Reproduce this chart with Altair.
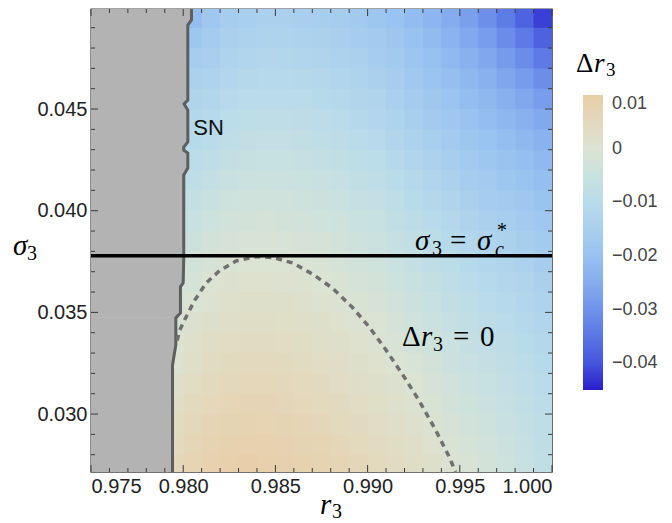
import altair as alt
import pandas as pd

# ---------------- data ----------------
# heat-map cells: column left edges (r3) and row bottom edges (sigma3), cell size 0.001 x 0.001
col_left = [0.979, 0.980, 0.981, 0.982, 0.983, 0.984, 0.985, 0.986, 0.987, 0.988, 0.989,
            0.990, 0.991, 0.992, 0.993, 0.994, 0.995, 0.996, 0.997, 0.998, 0.999]
row_bottom = [0.027, 0.028, 0.029, 0.030, 0.031, 0.032, 0.033, 0.034, 0.035, 0.036, 0.037, 0.038,
              0.039, 0.040, 0.041, 0.042, 0.043, 0.044, 0.045, 0.046, 0.047, 0.048, 0.049]

# Δr3 in units of 1e-3, one list per r3 column, bottom -> top
c00 = [6.0, 5.0, 4.0, 3.0, 2.0, 1.0, 0.0, -1.5, -3.0, -4.5, -6.0, -7.5, -9.0, -10.5, -12.0, -13.5, -15.0, -16.5, -18.0, -19.5, -21.0, -22.5, -24.0]
c01 = [7.5, 6.5, 5.6, 4.6, 3.7, 2.7, 1.7, 0.8, -0.3, -1.7, -3.1, -4.4, -5.7, -6.9, -8.1, -9.3, -10.5, -11.8, -12.9, -14.2, -15.9, -18.2, -21.0]
c02 = [8.5, 7.6, 6.6, 5.7, 4.8, 3.8, 2.9, 2.0, 1.0, 0.1, -1.3, -2.7, -4.1, -5.5, -6.8, -8.2, -9.6, -10.9, -12.2, -13.5, -14.8, -16.2, -18.0]
c03 = [9.2, 8.3, 7.3, 6.4, 5.4, 4.5, 3.6, 2.6, 1.7, 0.8, -0.2, -1.6, -2.9, -4.2, -5.5, -6.8, -8.1, -9.4, -10.7, -12.0, -13.3, -14.6, -16.0]
c04 = [9.5, 8.6, 7.6, 6.7, 5.8, 4.8, 3.9, 2.9, 2.0, 1.1, 0.1, -1.1, -2.3, -3.6, -4.9, -6.1, -7.4, -8.7, -9.9, -11.2, -12.5, -13.7, -15.0]
c05 = [9.3, 8.4, 7.5, 6.6, 5.7, 4.8, 3.9, 2.9, 2.0, 1.1, 0.2, -0.9, -2.2, -3.4, -4.6, -5.9, -7.1, -8.3, -9.6, -10.8, -12.0, -13.3, -14.5]
c06 = [8.9, 8.0, 7.1, 6.3, 5.4, 4.5, 3.6, 2.7, 1.9, 1.0, 0.1, -1.1, -2.3, -3.5, -4.8, -6.0, -7.2, -8.4, -9.6, -10.8, -12.1, -13.3, -14.5]
c07 = [8.3, 7.4, 6.6, 5.7, 4.9, 4.0, 3.2, 2.3, 1.5, 0.6, -0.4, -1.6, -2.8, -4.0, -5.2, -6.4, -7.6, -8.8, -10.0, -11.2, -12.4, -13.6, -14.8]
c08 = [7.6, 6.8, 5.9, 5.1, 4.3, 3.5, 2.6, 1.8, 1.0, 0.2, -1.0, -2.2, -3.4, -4.5, -5.7, -6.9, -8.1, -9.3, -10.5, -11.7, -12.9, -14.1, -15.3]
c09 = [6.8, 6.0, 5.2, 4.4, 3.6, 2.8, 2.0, 1.2, 0.4, -0.6, -1.8, -3.0, -4.1, -5.3, -6.5, -7.7, -8.9, -10.1, -11.3, -12.4, -13.6, -14.8, -16.0]
c10 = [5.9, 5.1, 4.3, 3.6, 2.8, 2.0, 1.2, 0.5, -0.5, -1.7, -2.8, -4.0, -5.2, -6.4, -7.6, -8.7, -9.9, -11.1, -12.3, -13.5, -14.6, -15.8, -17.0]
c11 = [5.0, 4.2, 3.5, 2.7, 2.0, 1.2, 0.5, -0.4, -1.5, -2.6, -3.7, -4.8, -6.0, -7.1, -8.3, -9.5, -10.7, -11.9, -13.1, -14.4, -15.7, -16.9, -18.2]
c12 = [4.0, 3.2, 2.5, 1.7, 0.9, 0.2, -0.9, -2.0, -3.1, -4.2, -5.3, -6.4, -7.6, -8.7, -9.9, -11.1, -12.3, -13.5, -14.7, -15.9, -17.1, -18.3, -19.6]
c13 = [3.0, 2.2, 1.5, 0.7, -0.1, -1.2, -2.3, -3.4, -4.5, -5.6, -6.7, -7.8, -9.0, -10.2, -11.4, -12.6, -13.8, -15.0, -16.2, -17.5, -18.8, -20.0, -21.2]
c14 = [1.9, 1.1, 0.3, -0.6, -1.6, -2.7, -3.7, -4.8, -5.9, -7.0, -8.1, -9.2, -10.3, -11.5, -12.7, -13.9, -15.1, -16.4, -17.7, -19.0, -20.3, -21.6, -23.0]
c15 = [0.4, -0.5, -1.4, -2.3, -3.3, -4.3, -5.3, -6.3, -7.3, -8.4, -9.5, -10.6, -11.7, -12.9, -14.1, -15.3, -16.6, -17.9, -19.2, -20.6, -22.0, -23.5, -25.0]
c16 = [-0.9, -1.8, -2.8, -3.7, -4.7, -5.7, -6.7, -7.7, -8.7, -9.8, -10.9, -12.0, -13.2, -14.4, -15.6, -16.9, -18.2, -19.5, -20.9, -22.4, -24.0, -25.7, -27.5]
c17 = [-2.4, -3.2, -4.1, -5.0, -5.9, -6.9, -7.9, -8.9, -9.9, -11.0, -12.1, -13.2, -14.4, -15.6, -16.9, -18.2, -19.6, -21.0, -22.5, -24.1, -25.9, -28.0, -30.5]
c18 = [-4.0, -4.7, -5.5, -6.3, -7.1, -8.0, -8.9, -9.9, -10.9, -12.0, -13.1, -14.3, -15.5, -16.8, -18.1, -19.5, -21.0, -22.6, -24.3, -26.2, -28.4, -31.0, -34.0]
c19 = [-5.7, -6.3, -7.0, -7.7, -8.5, -9.3, -10.2, -11.1, -12.1, -13.1, -14.2, -15.4, -16.6, -17.9, -19.3, -20.8, -22.4, -24.1, -26.0, -28.2, -30.9, -34.3, -38.0]
c20 = [-7.5, -8.0, -8.6, -9.3, -10.0, -10.8, -11.6, -12.5, -13.5, -14.5, -15.6, -16.8, -18.0, -19.3, -20.7, -22.2, -23.9, -25.8, -28.0, -30.8, -34.2, -38.2, -42.0]
columns = [c00, c01, c02, c03, c04, c05, c06, c07, c08, c09, c10,
           c11, c12, c13, c14, c15, c16, c17, c18, c19, c20]

# SN boundary (top -> bottom)
sn_r3 = [0.98045, 0.98045, 0.98025, 0.98025, 0.98005, 0.98025, 0.98025, 0.98003, 0.98003, 0.98025,
         0.98025, 0.98003, 0.98003, 0.98000, 0.97985, 0.97985, 0.97960, 0.97960, 0.97942, 0.97942]
sn_s3 = [0.05000, 0.04938, 0.04913, 0.04544, 0.04525, 0.04495, 0.04338, 0.04313, 0.04298, 0.04284,
         0.04210, 0.04176, 0.03772, 0.03645, 0.03625, 0.03497, 0.03473, 0.03340, 0.03241, 0.02700]

# Δr3 = 0 contour
zero_r3 = [0.97967, 0.97981, 0.98008, 0.98062, 0.98125, 0.98197, 0.98287, 0.98395, 0.98486, 0.98594,
           0.98702, 0.98810, 0.98918, 0.99008, 0.99098, 0.99188, 0.99278, 0.99369, 0.99441, 0.99477]
zero_s3 = [0.03361, 0.03412, 0.03464, 0.03559, 0.03645, 0.03705, 0.03753, 0.03774, 0.03770, 0.03743,
           0.03688, 0.03619, 0.03524, 0.03429, 0.03317, 0.03197, 0.03068, 0.02921, 0.02792, 0.02715]

sigma_c = [0.03779]

x_major = [0.975, 0.980, 0.985, 0.990, 0.995, 1.000]
x_minor = [0.976, 0.977, 0.978, 0.979, 0.981, 0.982, 0.983, 0.984, 0.986, 0.987, 0.988, 0.989,
           0.991, 0.992, 0.993, 0.994, 0.996, 0.997, 0.998, 0.999]
y_major = [0.030, 0.035, 0.040, 0.045]
y_minor = [0.028, 0.029, 0.031, 0.032, 0.033, 0.034, 0.036, 0.037, 0.038, 0.039,
           0.041, 0.042, 0.043, 0.044, 0.046, 0.047, 0.048, 0.049]
cbar_values = [-0.04, -0.03, -0.02, -0.01, 0.0, 0.01]

# ---------------- tables ----------------
cells = []
for i, col in enumerate(columns):
    for j, v in enumerate(col):
        cells.append({"x0": col_left[i], "x1": col_left[i] + 0.001,
                      "y0": row_bottom[j], "y1": row_bottom[j] + 0.001, "d": v / 1000.0})
df_heat = pd.DataFrame(cells)

# gray (unstable) region left of the SN boundary, as horizontal strips
strips = []
for j in range(len(sn_r3) - 1):
    strips.append({"gx0": 0.975, "gx1": (sn_r3[j] + sn_r3[j + 1]) / 2.0,
                   "gy0": sn_s3[j + 1], "gy1": sn_s3[j]})
df_gray = pd.DataFrame(strips)
df_sn = pd.DataFrame({"sx": sn_r3, "sy": sn_s3, "i": list(range(len(sn_r3)))})
df_zero = pd.DataFrame({"zx": zero_r3, "zy": zero_s3, "i": list(range(len(zero_r3)))})

W, H = 461, 463
xs = alt.Scale(domain=[0.975, 1.0], nice=False, zero=False)
ys = alt.Scale(domain=[0.02715, 0.04992], nice=False, zero=False)
x_axis = alt.Axis(values=x_major, format=".3f", ticks=False, domain=False, grid=False, title=None,
                  labelFont="Liberation Sans", labelFontSize=20, labelColor="#222222", labelPadding=4)
y_axis = alt.Axis(values=y_major, format=".3f", ticks=False, domain=False, grid=False, title=None,
                  labelFont="Liberation Sans", labelFontSize=20, labelColor="#222222", labelPadding=4)


def X(f):
    return alt.X(f + ":Q", scale=xs, axis=x_axis)


def Y(f):
    return alt.Y(f + ":Q", scale=ys, axis=y_axis)


cdomain = [-0.045, -0.04, -0.035, -0.03, -0.025, -0.02, -0.015, -0.01, -0.005, 0.0, 0.005, 0.01]
crange = ["#2a1ccc", "#4556dc", "#5a76e4", "#6f92ea", "#85adee", "#98c2f0", "#a9cfee", "#b9dbea",
          "#cae1df", "#dbe3d3", "#e3d9bd", "#e8cea8"]
cscale = alt.Scale(domain=cdomain, range=crange, interpolate="rgb")

legend = alt.Legend(type="gradient", orient="none", legendX=492, legendY=86, direction="vertical", title=None,
                    gradientLength=295, gradientThickness=20, gradientStrokeWidth=0,
                    values=cbar_values, labelFont="Liberation Sans", labelFontSize=18,
                    labelColor="#444444", labelOffset=9, labelBaseline="middle", labelOverlap=False,
                    labelExpr="datum.value == 0 ? '0' : replace(format(datum.value, '.2f'), '-', '\u2212')")

heat = alt.Chart(df_heat).mark_rect(clip=True, x2Offset=0.7, y2Offset=-0.7).encode(
    x=X("x0"), x2="x1", y=Y("y0"), y2="y1",
    color=alt.Color("d:Q", scale=cscale, legend=legend),
)

gray = alt.Chart(df_gray).mark_rect(color="#b3b3b3", clip=True, y2Offset=-0.5).encode(
    x=X("gx0"), x2="gx1", y=Y("gy0"), y2="gy1")

sn_line = alt.Chart(df_sn).mark_line(color="#5e5e5e", strokeWidth=3, clip=True).encode(
    x=X("sx"), y=Y("sy"), order="i:Q")

zero_line = alt.Chart(df_zero).mark_line(color="#707070", strokeWidth=3.5, strokeDash=[6, 5], clip=True).encode(
    x=X("zx"), y=Y("zy"), order="i:Q")

hline = alt.Chart(pd.DataFrame({"s": sigma_c})).mark_rule(color="black", strokeWidth=3.5).encode(y=Y("s"))

tick_color = "#3a3a3a"


def xticks(vals, length):
    d = pd.DataFrame({"t": vals})
    b = alt.Chart(d).mark_rule(color=tick_color, strokeWidth=1).encode(
        x=X("t"), y=alt.value(H), y2=alt.value(H - length))
    t = alt.Chart(d).mark_rule(color=tick_color, strokeWidth=1).encode(
        x=X("t"), y=alt.value(0), y2=alt.value(length))
    return [b, t]


def yticks(vals, length):
    d = pd.DataFrame({"t": vals})
    l = alt.Chart(d).mark_rule(color=tick_color, strokeWidth=1).encode(
        y=Y("t"), x=alt.value(0), x2=alt.value(length))
    r = alt.Chart(d).mark_rule(color=tick_color, strokeWidth=1).encode(
        y=Y("t"), x=alt.value(W), x2=alt.value(W - length))
    return [l, r]


ticks = xticks(x_major, 7) + xticks(x_minor, 4) + yticks(y_major, 7) + yticks(y_minor, 4)


def piece_data(text, xv, yv, dx, dy, size, italic):
    d = pd.DataFrame({"px": [xv], "py": [yv], "t": [text]})
    props = dict(font="Liberation Serif", fontSize=size, align="left", baseline="alphabetic",
                 dx=dx, dy=dy, color="black")
    if italic:
        props["fontStyle"] = "italic"
    return alt.Chart(d).mark_text(**props).encode(x=X("px"), y=Y("py"), text="t:N")


def piece_px(text, xp, yp, size, italic):
    d = pd.DataFrame({"t": [text]})
    props = dict(font="Liberation Serif", fontSize=size, align="left", baseline="alphabetic", color="black")
    if italic:
        props["fontStyle"] = "italic"
    return alt.Chart(d).mark_text(**props).encode(x=alt.value(xp), y=alt.value(yp), text="t:N")


# label anchors (data coordinates)
sig_lab = (0.99257, 0.03807)
dr_lab = (0.99187, 0.03334)
sn_lab = (0.98055, 0.04407)

texts = [
    piece_data("σ", sig_lab[0], sig_lab[1], 0, 0, 29, True),
    piece_data("3", sig_lab[0], sig_lab[1], 17, 5, 20, False),
    piece_data("=", sig_lab[0], sig_lab[1], 35, 0, 29, False),
    piece_data("σ", sig_lab[0], sig_lab[1], 62, 0, 29, True),
    piece_data("c", sig_lab[0], sig_lab[1], 80, 6, 20, True),
    piece_data("*", sig_lab[0], sig_lab[1], 82, -13, 20, False),
    piece_data("Δ", dr_lab[0], dr_lab[1], 0, 0, 29, False),
    piece_data("r", dr_lab[0], dr_lab[1], 19, 0, 29, True),
    piece_data("3", dr_lab[0], dr_lab[1], 31, 5, 20, False),
    piece_data("=", dr_lab[0], dr_lab[1], 51, 0, 29, False),
    piece_data("0", dr_lab[0], dr_lab[1], 78, 0, 29, False),
    alt.Chart(pd.DataFrame({"px": [sn_lab[0]], "py": [sn_lab[1]], "t": ["SN"]})).mark_text(
        font="Liberation Sans", fontSize=22, align="left", baseline="middle", color="#111111").encode(
        x=X("px"), y=Y("py"), text="t:N"),
    # axis titles
    piece_px("σ", -78, 246, 29, True),
    piece_px("3", -64, 251, 20, False),
    piece_px("r", 229, 505, 29, True),
    piece_px("3", 241, 509, 20, False),
    # colorbar title
    piece_px("Δ", 485, 63, 27, False),
    piece_px("r", 503, 63, 27, True),
    piece_px("3", 515, 67, 19, False),
]

chart = alt.layer(heat, gray, sn_line, zero_line, hline, *ticks, *texts).properties(
    width=W, height=H,
    autosize=alt.AutoSizeParams(type="none"),
    padding={"left": 83, "top": 1, "right": 112, "bottom": 50},
).configure_view(stroke="#444444", strokeWidth=1.4)

chart.save("out.html", embed_options={"renderer": "svg", "actions": False})
